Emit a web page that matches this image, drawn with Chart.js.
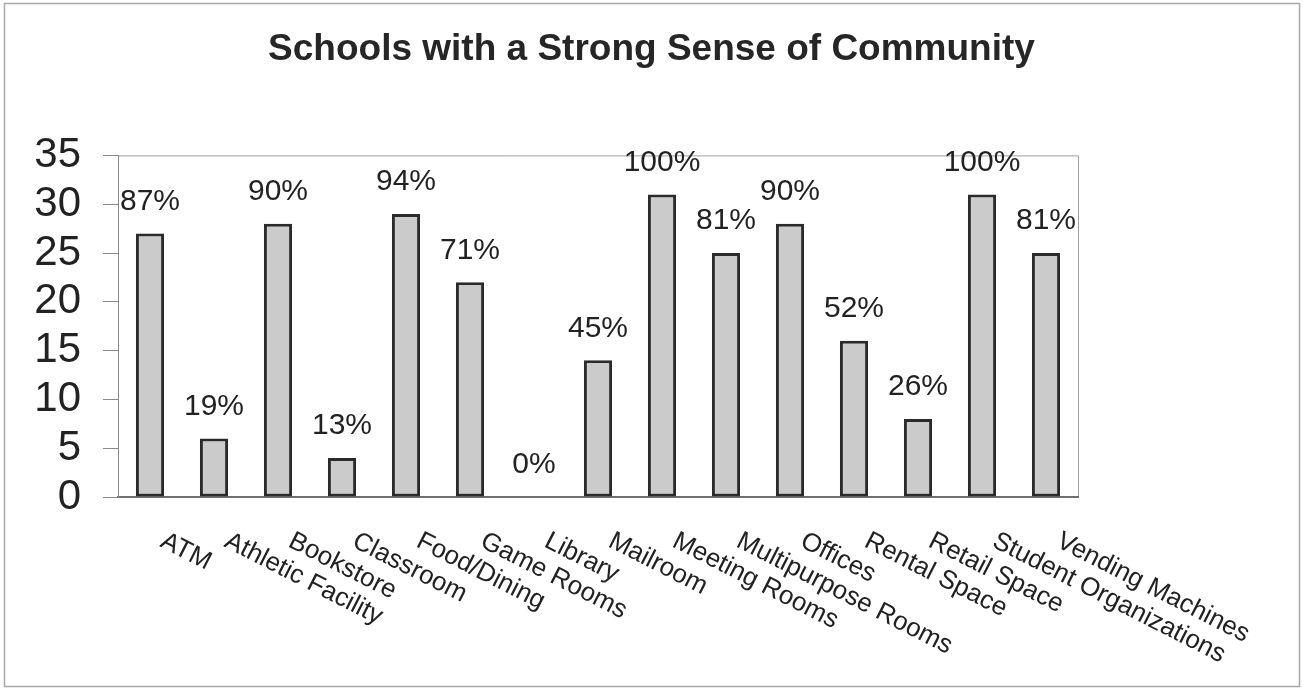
<!DOCTYPE html>
<html>
<head>
<meta charset="utf-8">
<title>Schools with a Strong Sense of Community</title>
<script src="https://cdn.jsdelivr.net/npm/chart.js@4.4.1/dist/chart.umd.min.js"></script>
<style>
    html, body { margin: 0; padding: 0; background: #ffffff; }
    #wrap { position: relative; width: 1303px; height: 690px; }
</style>
</head>
<body>
<div id="wrap"><canvas id="comunidade" width="1303" height="690"></canvas></div>
<script>
const categorias = ["ATM", "Athletic Facility", "Bookstore", "Classroom", "Food/Dining", "Game Rooms",
    "Library", "Mailroom", "Meeting Rooms", "Multipurpose Rooms", "Offices", "Rental Space",
    "Retail Space", "Student Organizations", "Vending Machines"];
const escolas = [27, 6, 28, 4, 29, 22, 0, 14, 31, 25, 28, 16, 8, 31, 25];
const percentuais = ["87%", "19%", "90%", "13%", "94%", "71%", "0%", "45%", "100%", "81%", "90%", "52%", "26%", "100%", "81%"];
const yTicks = [0, 5, 10, 15, 20, 25, 30, 35];

// moldura externa + caixa da area do grafico
const molduras = {
    id: "molduras",
    beforeDraw(chart) {
        const ctx = chart.ctx;
        const a = chart.chartArea;
        ctx.save();
        ctx.strokeStyle = "#a8a8a8";
        ctx.lineWidth = 1.5;
        ctx.strokeRect(4.5, 3.5, 1295, 683);
        ctx.strokeStyle = "#a0a0a0";
        ctx.lineWidth = 1;
        ctx.beginPath();
        ctx.moveTo(a.left, a.top + 0.5);
        ctx.lineTo(a.right + 0.5, a.top + 0.5);
        ctx.lineTo(a.right + 0.5, a.bottom);
        ctx.stroke();
        ctx.restore();
    }
};

// rotulos de percentual e rotulos inclinados do eixo x
const rotulos = {
    id: "rotulos",
    afterDatasetsDraw(chart) {
        const ctx = chart.ctx;
        const meta = chart.getDatasetMeta(0);
        const x = chart.scales.x;
        const base = chart.chartArea.bottom;
        ctx.save();
        ctx.fillStyle = "#222222";
        ctx.font = "30px 'Liberation Sans', Arial, sans-serif";
        ctx.textAlign = "center";
        ctx.textBaseline = "middle";
        meta.data.forEach((bar, i) => {
            ctx.fillText(percentuais[i], bar.x, bar.y - 32);
        });
        ctx.font = "26px 'Liberation Sans', Arial, sans-serif";
        ctx.textAlign = "left";
        ctx.textBaseline = "alphabetic";
        categorias.forEach((c, i) => {
            const px = x.getPixelForValue(i);
            ctx.save();
            ctx.translate(px + 9, base + 49);
            ctx.rotate(27 * Math.PI / 180);
            ctx.fillText(c, 0, 0);
            ctx.restore();
        });
        ctx.restore();
    }
};

document.addEventListener("DOMContentLoaded", () => {
    const comunidade = document.getElementById("comunidade");

    new Chart(comunidade, {
        type: "bar",
        data: {
            labels: categorias,
            datasets: [
                {
                    label: "Schools",
                    data: escolas,
                    backgroundColor: "#cbcbcb",
                    borderColor: "#2b2b2b",
                    borderWidth: 3,
                    borderSkipped: false,
                    categoryPercentage: 1,
                    barPercentage: 0.44
                }
            ]
        },
        options: {
            responsive: false,
            animation: false,
            layout: {
                padding: 0
            },
            plugins: {
                legend: { display: false },
                tooltip: { enabled: false },
                title: {
                    display: true,
                    text: "Schools with a Strong Sense of Community",
                    color: "#262626",
                    font: {
                        family: "'Liberation Sans', Arial, sans-serif",
                        size: 37,
                        weight: "bold"
                    },
                    padding: { top: 28, bottom: 83 }
                }
            },
            scales: {
                x: {
                    grid: { display: false },
                    border: { color: "#707070", width: 2 },
                    ticks: { display: false },
                    afterFit(scale) {
                        scale.height = 193;
                    }
                },
                y: {
                    min: 0,
                    max: 35,
                    afterBuildTicks(scale) {
                        scale.ticks = yTicks.map(v => ({ value: v }));
                    },
                    grid: {
                        drawOnChartArea: false,
                        tickLength: 15,
                        color: "#8a8a8a"
                    },
                    border: { color: "#8a8a8a", width: 1 },
                    ticks: {
                        autoSkip: false,
                        color: "#222222",
                        padding: 22,
                        font: {
                            family: "'Liberation Sans', Arial, sans-serif",
                            size: 42
                        }
                    },
                    afterFit(scale) {
                        scale.width = 118;
                    }
                },
                // espaco vazio a direita, sem marcas
                yDireita: {
                    position: "right",
                    grid: { display: false },
                    border: { display: false },
                    ticks: { display: false },
                    afterFit(scale) {
                        scale.width = 225;
                    }
                }
            }
        },
        plugins: [molduras, rotulos]
    });
});
</script>
</body>
</html>
